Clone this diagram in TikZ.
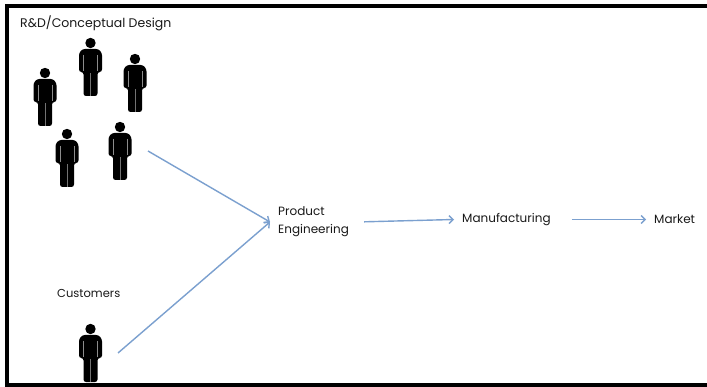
\documentclass[tikz,border=0pt]{standalone}
\usepackage{fontspec}
\setmainfont{Poppins}
\usetikzlibrary{arrows.meta}
\definecolor{flowblue}{HTML}{7BA0CF}
\tikzset{
	lbl/.style={anchor=west,inner sep=0pt,font=\fontsize{12}{18}\selectfont,text=black!90},
	stage/.style={anchor=west,inner xsep=8pt,inner ysep=0pt,align=left,font=\fontsize{12}{18}\selectfont,text=black!90},
	flow/.style={draw=flowblue,line width=1.4pt,-{Straight Barb[length=4pt,width=8pt]}},
	bar/.style={fill=black,draw=none},
	person/.pic={
		\fill[black] (0,5) circle (5.2);
		\fill[black,rounded corners=2.5pt] (-8,11) -- (8,11) -- (11.5,15) -- (11.5,34) -- (7,34) -- (7,58) -- (-7,58) -- (-7,34) -- (-11.5,34) -- (-11.5,15) -- cycle;
		\draw[black!45,line width=.6pt] (-7,17) -- (-7,33);
		\draw[black!45,line width=.6pt] (7,17) -- (7,33);
		\draw[black!55,line width=.7pt] (0,35) -- (0,58);
	}
}
\begin{document}
\begin{tikzpicture}[x=1pt,y=-1pt]
	\useasboundingbox (0,0) rectangle (707,387);
	\fill[white] (0,0) rectangle (707,387);

	\fill[bar] (5,4) rectangle (707,8);
	\fill[bar] (5,383) rectangle (707,387);
	\fill[bar] (5,4) rectangle (9,387);

	\node [lbl,font=\fontsize{12.5}{18}\selectfont] (rd) at (20,23) {R\&D/Conceptual Design};
	\node [lbl,font=\fontsize{11.5}{18}\selectfont] (cust) at (57,293) {Customers};

	\pic at (90.5,38) {person};
	\pic at (135,54) {person};
	\pic at (45,68) {person};
	\pic at (67,129) {person};
	\pic at (120,122) {person};
	\pic at (90.5,324) {person};

	\coordinate (rdout) at (148,151);
	\coordinate (custout) at (118,353);

	\node [stage] (eng) at (270,222) {Product\\Engineering};
	\node [stage] (mfg) at (454,219.5) {Manufacturing};
	\node [stage] (mkt) at (646,219.5) {Market};

	\draw[flow] (rdout) -- (eng.west);
	\draw[flow] (custout) -- (eng.west);
	\draw[flow,shorten <=7pt] (eng.east) -- (mfg.west);
	\draw[flow,shorten <=13pt] (mfg.east) -- (mkt.west);
\end{tikzpicture}
\end{document}
